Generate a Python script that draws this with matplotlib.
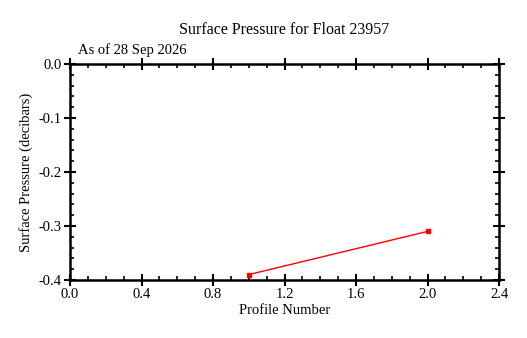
import matplotlib
matplotlib.use("Agg")
import matplotlib.pyplot as plt
from matplotlib.ticker import MultipleLocator

profiles = [1, 2]
pressure = [-0.39, -0.31]
title = "Surface Pressure for Float 23957"
subtitle = "As of 28 Sep 2026"

plt.rcParams['font.family'] = ['Liberation Serif', 'DejaVu Serif']

fig = plt.figure(figsize=(5.27, 3.38), dpi=100)
ax = fig.add_axes([70/527, 1-280/338, 429/527, 216/338])
ax.plot(profiles, pressure, color='red', lw=1, marker='s', ms=3.5)
ax.set_xlim(0, 2.4)
ax.set_ylim(-0.4, 0.0)
ax.xaxis.set_major_locator(MultipleLocator(0.4))
ax.xaxis.set_minor_locator(MultipleLocator(0.1))
ax.yaxis.set_major_locator(MultipleLocator(0.1))
ax.yaxis.set_minor_locator(MultipleLocator(0.02))
ax.xaxis.set_major_formatter(matplotlib.ticker.FormatStrFormatter('%.1f'))
ax.yaxis.set_major_formatter(matplotlib.ticker.FormatStrFormatter('%.1f'))
for s in ax.spines.values():
    s.set_linewidth(1.8)
ax.tick_params(axis='both', which='major', direction='inout', length=8, width=1.5,
               labelsize=10.5, top=True, right=True, pad=2)
ax.tick_params(axis='both', which='minor', direction='in', length=3, width=1.2,
               top=True, right=True)
ax.set_xlabel('Profile Number', fontsize=10.5, labelpad=2)
ax.set_ylabel('Surface Pressure (decibars)', fontsize=10.5, labelpad=4)
fig.text(284.5/527, 1-30/338, title, ha='center', va='center', fontsize=11.5)
fig.text(78/527, 1-50/338, subtitle, ha='left', va='center', fontsize=10.5)
fig.savefig('out.png', dpi=100)
